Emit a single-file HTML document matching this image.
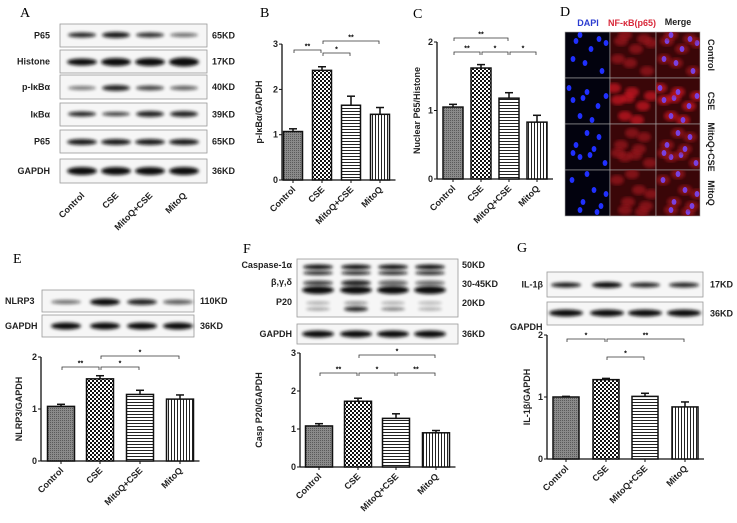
<!DOCTYPE html>
<html><head><meta charset="utf-8">
<style>
html,body{margin:0;padding:0;background:#fff;}
svg{display:block;font-family:"Liberation Sans",Arial,sans-serif;}
.pl{font-family:"Liberation Serif",serif;font-size:14px;}
.lb{font-size:9px;font-weight:bold;fill:#222;}
</style></head>
<body>
<svg id="fig" width="737" height="523" viewBox="0 0 737 523" xmlns="http://www.w3.org/2000/svg">
<defs>
<filter id="blur" x="-30%" y="-100%" width="160%" height="300%"><feGaussianBlur stdDeviation="1.6"/></filter>
<filter id="blur2"><feGaussianBlur stdDeviation="1.8"/></filter>
<pattern id="pCtrl" width="2" height="2" patternUnits="userSpaceOnUse"><rect width="2" height="2" fill="#8a8a8a"/><rect width="1" height="1" fill="#5a5a5a"/></pattern>
<pattern id="pCSE" width="4" height="4" patternUnits="userSpaceOnUse"><rect width="4" height="4" fill="#fff"/><rect width="2" height="2" fill="#111"/><rect x="2" y="2" width="2" height="2" fill="#111"/></pattern>
<pattern id="pMQC" width="4" height="3" patternUnits="userSpaceOnUse"><rect width="4" height="3" fill="#fff"/><rect width="4" height="1" fill="#222"/></pattern>
<pattern id="pMQ" width="3" height="4" patternUnits="userSpaceOnUse"><rect width="3" height="4" fill="#fff"/><rect width="1" height="4" fill="#222"/></pattern>
</defs>
<g id="root"></g>
</svg>
<script>
const categories = ["Control","CSE","MitoQ+CSE","MitoQ"];
const bValues = [1.07, 2.42, 1.65, 1.45];
const bErrors = [0.06, 0.08, 0.2, 0.15];
const bTicks = [0,1,2,3];
const cValues = [1.05, 1.62, 1.18, 0.83];
const cErrors = [0.04, 0.05, 0.08, 0.1];
const cTicks = [0,1,2];
const eValues = [1.05, 1.58, 1.28, 1.19];
const eErrors = [0.04, 0.06, 0.08, 0.08];
const eTicks = [0,1,2];
const fValues = [1.08, 1.73, 1.28, 0.9];
const fErrors = [0.06, 0.08, 0.12, 0.06];
const fTicks = [0,1,2,3];
const gValues = [1.0, 1.28, 1.01, 0.84];
const gErrors = [0.01, 0.02, 0.05, 0.08];
const gTicks = [0,1,2];

const NS = "http://www.w3.org/2000/svg";
const root = document.getElementById("root");
function mk(tag, attrs, parent, text){
  const e = document.createElementNS(NS, tag);
  for (const k in attrs) e.setAttribute(k, attrs[k]);
  if (text !== undefined) e.textContent = text;
  (parent||root).appendChild(e);
  return e;
}
const fills = ["url(#pCtrl)","url(#pCSE)","url(#pMQC)","url(#pMQ)"];

function chart(id, ax, y0, unit, centers, bw, values, errors, ticks, ylabel, ylx, sigs){
  const g = mk("g", {});
  
  
  const yS = v => y0 - v*unit;
  const top = yS(ticks[ticks.length-1]);
  mk("line",{x1:ax,y1:top,x2:ax,y2:y0,stroke:"#111","stroke-width":1.3},g);
  const xEnd = centers[centers.length-1] + bw/2 + 6;
  mk("line",{x1:ax,y1:y0,x2:xEnd,y2:y0,stroke:"#111","stroke-width":1.3},g);
  ticks.forEach(t=>{
    mk("line",{x1:ax-3,y1:yS(t),x2:ax,y2:yS(t),stroke:"#111"},g);
    const tl = mk("text",{x:ax-4,y:yS(t)+3,"text-anchor":"end",class:"lb"},g,String(t));
    
    
  });
  values.forEach((v,i)=>{
    const cx = centers[i];
    const b = mk("rect",{x:cx-bw/2,y:yS(v),width:bw,height:y0-yS(v),fill:fills[i],stroke:"#111","stroke-width":1.5},g);
    
    
    const ey = yS(v+errors[i]);
    mk("line",{x1:cx,y1:yS(v),x2:cx,y2:ey,stroke:"#111","stroke-width":1.5},g);
    mk("line",{x1:cx-4,y1:ey,x2:cx+4,y2:ey,stroke:"#111","stroke-width":1.5},g);
    mk("line",{x1:cx,y1:y0,x2:cx,y2:y0+3,stroke:"#111"},g);
    const xl = mk("text",{x:cx+3,y:y0+10,"text-anchor":"end",class:"lb",transform:`rotate(-45 ${cx+3} ${y0+10})`},g,categories[i]);
    
    
  });
  const ym = (top+y0)/2;
  const yl = mk("text",{x:ylx,y:ym,"text-anchor":"middle",class:"lb",transform:`rotate(-90 ${ylx} ${ym})`},g,ylabel);
  
  
  sigs.forEach(s=>{
    const x1=centers[s[0]]+1, x2=centers[s[1]]-1, y=s[2];
    mk("path",{d:`M${x1} ${y+3}V${y}H${x2}V${y+3}`,fill:"none",stroke:"#333","stroke-width":0.8},g);
    mk("text",{x:(x1+x2)/2,y:y-1.5,"text-anchor":"middle","font-size":"7px","font-weight":"bold"},g,s[3]);
  });
}

chart("b",282,180,45.3,[293,322,351,380],19,bValues,bErrors,bTicks,"p-IκBα/GAPDH",262,
  [[0,1,50,"**"],[1,2,53,"*"],[1,3,41,"**"]]);
chart("c",437,179,68.5,[453,481,509,537],20,cValues,cErrors,cTicks,"Nuclear P65/Histone",420,
  [[0,2,38,"**"],[0,1,52,"**"],[1,2,52,"*"],[2,3,52,"*"]]);
chart("e",41,461,52,[61,100,140,180],27,eValues,eErrors,eTicks,"NLRP3/GAPDH",22,
  [[0,1,367,"**"],[1,2,367,"*"],[1,3,356,"*"]]);
chart("f",300,467,38,[319,358,396,436],27,fValues,fErrors,fTicks,"Casp P20/GAPDH",262,
  [[0,1,373,"**"],[1,2,373,"*"],[2,3,373,"**"],[1,3,355,"*"]]);
chart("g",547,459,62,[566,606,645,685],26,gValues,gErrors,gTicks,"IL-1β/GAPDH",530,
  [[0,1,339,"*"],[1,3,339,"**"],[1,2,357,"*"]]);

[["A",20,17],["B",260,17],["C",413,18],["D",560,16],["E",13,263],["F",243,253],["G",517,252]].forEach(p=>{
  const t = mk("text",{x:p[1],y:p[2],class:"pl"},root,p[0]);
  
  
});

function blot(name, x, y, w, h, lanes, bands, label, labelX, kd, kdX, anchorLabel){
  const g = mk("g",{});
  
  
  mk("rect",{x:x,y:y,width:w,height:h,fill:"#f6f6f6",stroke:"#999","stroke-width":0.8},g);
  bands.forEach(b=>{
    lanes.forEach((lx,i)=>{
      mk("ellipse",{cx:lx,cy:y+b.dy,rx:b.rx,ry:b.ry[i],fill:"#111",opacity:b.op[i],filter:"url(#blur)"},g);
    });
  });
  if(label) mk("text",{x:labelX,y:y+h/2+3,"text-anchor":anchorLabel||"end",class:"lb"},g,label);
  if(kd) mk("text",{x:kdX,y:y+h/2+3,class:"lb"},g,kd);
}
const laneA=[82,116,150,184];
blot("blot-p65-nuclear",60,24,147,23,laneA,[{dy:11,rx:14,ry:[2.5,3,2.5,2],op:[.9,.95,.85,.6]}],"P65",50,"65KD",212);
blot("blot-histone",60,50,147,23,laneA,[{dy:12,rx:15,ry:[3.5,4,4,4.5],op:[1,1,1,1]}],"Histone",50,"17KD",212);
blot("blot-p-ikba",60,75,147,24,laneA,[{dy:13,rx:14,ry:[2,3,2.5,2.2],op:[.55,.9,.75,.65]}],"p-IκBα",50,"40KD",212);
blot("blot-ikba",60,103,147,23,laneA,[{dy:11,rx:14,ry:[2.5,2,3,3],op:[.9,.8,.9,.9]}],"IκBα",50,"39KD",212);
blot("blot-p65-total",60,130,147,23,laneA,[{dy:12,rx:15,ry:[3,3,3,3],op:[.95,.95,.95,.95]}],"P65",50,"65KD",212);
blot("blot-gapdh-a",60,159,147,24,laneA,[{dy:12,rx:15,ry:[4,4,4,4],op:[1,1,1,1]}],"GAPDH",50,"36KD",212);
categories.forEach((c,i)=>{
  const t = mk("text",{x:laneA[i]+3,y:196,"text-anchor":"end",class:"lb",transform:`rotate(-45 ${laneA[i]+3} 196)`},root,c);
  
  
});

const laneE=[66,105,142,178];
blot("blot-nlrp3",42,290,152,22,laneE,[{dy:12,rx:15,ry:[2,3.5,3,2.5],op:[.6,1,.9,.65]}],"NLRP3",5,"110KD",200,"start");
blot("blot-gapdh-e",42,315,152,22,laneE,[{dy:11,rx:15,ry:[3.5,3.5,3.5,3.5],op:[1,1,1,1]}],"GAPDH",5,"36KD",200,"start");

const laneF=[318,356,393,430];
blot("blot-caspase1",297,259,161,58,laneF,[
  {dy:8,rx:15,ry:[2.5,2.5,2.5,2.5],op:[1,1,1,1]},
  {dy:14,rx:15,ry:[2,2,2,2],op:[.9,.9,.9,.9]},
  {dy:24,rx:15,ry:[2.5,3,3,2.5],op:[.8,.9,.6,.6]},
  {dy:31,rx:16,ry:[4,4,4,4],op:[1,1,1,1]},
  {dy:44,rx:12,ry:[1.5,1.5,1.5,1.5],op:[.35,.5,.35,.3]},
  {dy:50,rx:12,ry:[1.5,2.5,1.5,1.5],op:[.4,.9,.6,.35]}],null,0,null,0);
blot("blot-gapdh-f",297,324,161,20,laneF,[{dy:10,rx:16,ry:[3.5,3.5,3.5,3.5],op:[1,1,1,1]}],"GAPDH",292,"36KD",462);
[["Caspase-1α",268],["β,γ,δ",285],["P20",305]].forEach(l=>mk("text",{x:292,y:l[1],"text-anchor":"end",class:"lb"},root,l[0]));
[["50KD",268],["30-45KD",287],["20KD",306]].forEach(l=>mk("text",{x:462,y:l[1],class:"lb"},root,l[0]));

const laneG=[566,607,645,684];
blot("blot-il1b",547,272,156,25,laneG,[{dy:13,rx:15,ry:[2.5,3,2.5,2.5],op:[.95,1,.9,.9]}],"IL-1β",543,"17KD",710);
blot("blot-gapdh-g",547,302,156,23,laneG,[{dy:11,rx:17,ry:[3.5,3.5,3.5,3.5],op:[1,1,1,1]}],null,0,"36KD",710);
mk("text",{x:510,y:330,class:"lb"},root,"GAPDH");

const gD = mk("g",{});


const colX=[565,610,656], colW=[45,46,44], rowY=[32,78,124,170], rowH=46;
const rowNames=["Control","CSE","MitoQ+CSE","MitoQ"];
mk("text",{x:588,y:26,"text-anchor":"middle",class:"lb",style:"fill:#2a3bd0"},gD,"DAPI");
mk("text",{x:632,y:26,"text-anchor":"middle",class:"lb",style:"fill:#d8283a"},gD,"NF-κB(p65)");
mk("text",{x:678,y:25,"text-anchor":"middle",class:"lb"},gD,"Merge");
const nuclei=[[8,6],[22,14],[36,8],[14,28],[30,36],[40,24],[6,40],[24,4]];
rowY.forEach((ry,r)=>{
  colX.forEach((cx,c)=>{
    mk("rect",{x:cx,y:ry,width:colW[c],height:rowH,fill:c===0?"#02020e":"#3a0608",stroke:"#aaa","stroke-width":0.6},gD);
    const clip = "clipD"+r+"_"+c;
    const cp = mk("clipPath",{id:clip},gD);
    mk("rect",{x:cx,y:ry,width:colW[c],height:rowH},cp);
    const cg = mk("g",{"clip-path":`url(#${clip})`},gD);
    nuclei.forEach((n,k)=>{
      const nx = cx+((n[0]+r*7+k)%40)+3, ny = ry+((n[1]+r*11)%40)+3;
      if(c>0) mk("ellipse",{cx:nx,cy:ny,rx:7,ry:5,fill:r===1?"#c81822":"#9a141c",opacity:.75,filter:"url(#blur2)"},cg);
      if(c!==1) mk("ellipse",{cx:nx,cy:ny,rx:2.4,ry:3,fill:c===0?"#2030ff":"#7a40e0"},cg);
    });
  });
  const ly = ry+rowH/2;
  mk("text",{x:708,y:ly,"text-anchor":"middle",class:"lb",transform:`rotate(90 708 ${ly})`},gD,rowNames[r]);
});
</script>
</body></html>
